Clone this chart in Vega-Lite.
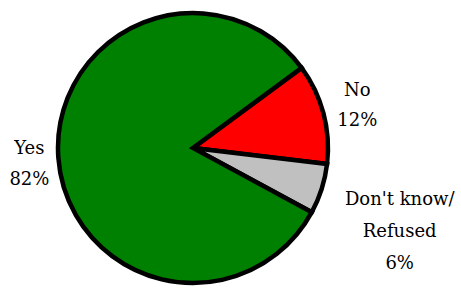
{
  "$schema": "https://vega.github.io/schema/vega-lite/v6.json",
  "width": 376,
  "height": 276,
  "autosize": "none",
  "padding": {"left": 5, "right": 80, "top": 10, "bottom": 2},
  "background": "white",
  "view": {"stroke": null},
  "data": {
    "values": [
      {"category": "No", "value": 12, "rank": 1, "label": "No\n12%"},
      {"category": "Don't know/Refused", "value": 6, "rank": 2, "label": "Don't know/\nRefused\n6%"},
      {"category": "Yes", "value": 82, "rank": 3, "label": "Yes\n82%"}
    ]
  },
  "encoding": {
    "theta": {"field": "value", "type": "quantitative", "stack": true, "scale": {"range": [0.935, 7.2182]}},
    "order": {"field": "rank", "type": "quantitative"}
  },
  "layer": [
    {
      "mark": {"type": "arc", "outerRadius": 135, "stroke": "black", "strokeWidth": 4.5, "strokeJoin": "miter"},
      "encoding": {
        "color": {
          "field": "category",
          "type": "nominal",
          "scale": {"domain": ["No", "Don't know/Refused", "Yes"], "range": ["#FF0000", "#C0C0C0", "#008000"]},
          "legend": null
        }
      }
    },
    {
      "mark": {"type": "text", "radius": 164, "dy": -11, "font": "DejaVu Serif", "fontSize": 18, "lineBreak": "\n", "lineHeight": 31, "align": "center", "baseline": "middle", "color": "black"},
      "encoding": {"text": {"condition": {"test": "datum.category === 'Yes'", "field": "label"}, "value": ""}}
    },
    {
      "mark": {"type": "text", "radius": 170, "dy": -13, "font": "DejaVu Serif", "fontSize": 18, "lineBreak": "\n", "lineHeight": 30, "align": "center", "baseline": "middle", "color": "black"},
      "encoding": {"text": {"condition": {"test": "datum.category === 'No'", "field": "label"}, "value": ""}}
    },
    {
      "mark": {"type": "text", "radius": 200, "dx": 16, "dy": -8, "font": "DejaVu Serif", "fontSize": 18, "lineBreak": "\n", "lineHeight": 32, "align": "center", "baseline": "middle", "color": "black"},
      "encoding": {"text": {"condition": {"test": "datum.category === \"Don't know/Refused\"", "field": "label"}, "value": ""}}
    }
  ]
}
